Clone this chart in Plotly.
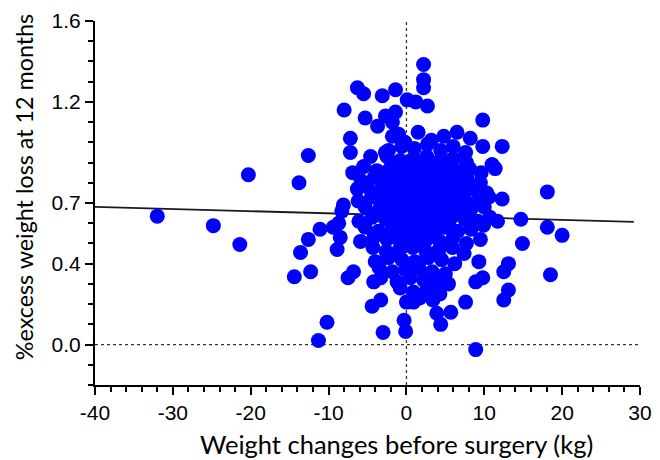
import plotly.graph_objects as go

# ---- data ----
x_ticks = [-40, -30, -20, -10, 0, 10, 20, 30]
x_ticktext = ["-40", "-30", "-20", "-10", "0", "10", "20", "30"]
y_ticks = [0.0, 0.4, 0.7, 1.2, 1.6]
y_ticktext = ["0.0", "0.4", "0.7", "1.2", "1.6"]

# regression line end points
reg_x = [-40, 29.2]
reg_y = [0.681, 0.607]

# scattered (individually visible) patients
x_sparse = [-32.0, -24.8, -21.4, -20.3, -13.8, -12.6, -13.6, -14.4, -12.3, -12.6,
            -11.1, -9.4, -8.9, -8.5, -8.7, -7.5, -6.8, -4.2, -3.3, -4.4,
            -3.3, -10.2, -11.3, -3.0, -0.3, -0.1, 0.9, 3.9, 4.4, 5.7,
            8.9, 7.6, 8.9, 9.3, 9.8, 12.5, 13.1, 12.5, 13.1, 14.9,
            14.7, 18.1, 20.0, 18.1, 18.5, 12.3, 11.7, 9.9, 9.5, 11.4,
            11.0, 9.8, 12.3, 9.8, 2.2, 2.2, 2.2, 1.2, 2.7, 0.1,
            -1.4, -1.8, -1.4, -2.7, -3.7, -5.3, -8.0, -6.3, -5.5, -3.1,
            -7.2, -1.0, -7.2, -6.9, -6.3, -4.6, -2.7, -8.1, -8.3, 6.5,
            8.2]
y_sparse = [0.635, 0.588, 0.495, 0.84, 0.80, 0.935, 0.455, 0.335, 0.36, 0.52,
            0.57, 0.58, 0.47, 0.53, 0.60, 0.33, 0.36, 0.31, 0.33, 0.19,
            0.22, 0.11, 0.02, 0.06, 0.12, 0.065, 0.21, 0.155, 0.10, 0.16,
            -0.025, 0.21, 0.31, 0.41, 0.33, 0.22, 0.27, 0.36, 0.40, 0.50,
            0.62, 0.58, 0.54, 0.755, 0.345, 0.72, 0.61, 0.59, 0.52, 0.87,
            0.89, 0.98, 0.98, 1.11, 1.385, 1.31, 1.27, 1.20, 1.18, 1.21,
            1.26, 1.10, 1.15, 1.13, 1.08, 1.12, 1.16, 1.27, 1.24, 1.23,
            1.02, 1.04, 0.95, 0.85, 0.77, 0.93, 0.95, 0.69, 0.66, 1.05,
            1.02]

# dense central cluster (overlapping points)
x_core = [-1.8, -0.2, 1.5, 3.2, 4.8,
          -2.3, -0.6, 1.0, 2.7, 4.4, 6.0, 7.6,
          -2.5, -0.8, 0.9, 2.6, 4.3, 6.0, 7.7,
          -5.5, -3.8, -2.1, -0.4, 1.3, 3.0, 4.7, 6.4, 8.1, 9.6,
          -5.8, -4.1, -2.4, -0.7, 1.0, 2.7, 4.4, 6.1, 7.8, 9.5,
          -5.0, -3.3, -1.6, 0.1, 1.8, 3.5, 5.2, 6.9, 8.6, 10.3,
          -6.2, -4.5, -2.8, -1.1, 0.6, 2.3, 4.0, 5.7, 7.4, 9.1, 10.6,
          -5.3, -3.6, -1.9, -0.2, 1.5, 3.2, 4.9, 6.6, 8.3, 10.0,
          -6.1, -4.4, -2.7, -1.0, 0.7, 2.4, 4.1, 5.8, 7.5, 9.2, 10.7,
          -5.3, -3.6, -1.9, -0.2, 1.5, 3.2, 4.9, 6.6, 8.3,
          -5.9, -4.2, -2.5, -0.8, 0.9, 2.6, 4.3, 6.0, 7.7,
          -4.3, -2.6, -0.9, 0.8, 2.5, 4.2, 5.9, 7.4,
          -4.0, -2.3, -0.6, 1.1, 2.8, 4.5, 6.2,
          -3.5, -1.8, -0.1, 1.6, 3.3, 5.0,
          -1.2, 0.5, 2.2, 3.9, 5.4,
          -0.8, 0.9, 2.6, 4.3,
          0.0, 1.7, 3.4]
y_core = [1.03, 1.00, 1.05, 1.01, 1.03,
          0.96, 0.98, 0.97, 0.99, 0.96, 0.98, 0.95,
          0.93, 0.91, 0.92, 0.93, 0.91, 0.92, 0.90,
          0.88, 0.86, 0.87, 0.88, 0.86, 0.87, 0.88, 0.86, 0.87, 0.85,
          0.81, 0.83, 0.82, 0.81, 0.83, 0.82, 0.81, 0.83, 0.82, 0.80,
          0.78, 0.76, 0.77, 0.78, 0.76, 0.77, 0.78, 0.76, 0.77, 0.75,
          0.71, 0.73, 0.72, 0.71, 0.73, 0.72, 0.71, 0.73, 0.72, 0.71, 0.73,
          0.68, 0.66, 0.67, 0.68, 0.66, 0.67, 0.68, 0.66, 0.67, 0.68,
          0.61, 0.63, 0.62, 0.61, 0.63, 0.62, 0.61, 0.63, 0.62, 0.61, 0.63,
          0.58, 0.56, 0.57, 0.58, 0.56, 0.57, 0.58, 0.56, 0.57,
          0.51, 0.53, 0.52, 0.51, 0.53, 0.52, 0.51, 0.53, 0.50,
          0.48, 0.46, 0.47, 0.48, 0.46, 0.47, 0.48, 0.45,
          0.41, 0.43, 0.42, 0.41, 0.43, 0.42, 0.40,
          0.38, 0.36, 0.37, 0.38, 0.36, 0.35,
          0.31, 0.33, 0.32, 0.31, 0.30,
          0.28, 0.26, 0.27, 0.25,
          0.21, 0.23, 0.22]

# extra patients hidden in the solid middle of the cluster
x_mid = [-1.5, 0.2, 1.9, 3.6, 5.3,
         -3.2, -1.5, 0.2, 1.9, 3.6, 5.3, 7.0,
         -3.1, -1.4, 0.3, 2.0, 3.7, 5.4, 7.1,
         -3.2, -1.5, 0.2, 1.9, 3.6, 5.3, 7.0,
         -3.3, -1.6, 0.1, 1.8, 3.5, 5.2, 6.9,
         -3.2, -1.5, 0.2, 1.9, 3.6, 5.3,
         -1.4, 0.3, 2.0, 3.7, 5.4,
         -1.5, 0.2, 1.9, 3.6,
         0.2, 1.9]
y_mid = [0.895, 0.90, 0.89, 0.895, 0.90,
         0.845, 0.85, 0.84, 0.845, 0.85, 0.84, 0.845,
         0.795, 0.80, 0.79, 0.795, 0.80, 0.79, 0.795,
         0.745, 0.75, 0.74, 0.745, 0.75, 0.74, 0.745,
         0.695, 0.70, 0.69, 0.695, 0.70, 0.69, 0.695,
         0.645, 0.65, 0.64, 0.645, 0.65, 0.64,
         0.595, 0.60, 0.59, 0.595, 0.60,
         0.545, 0.55, 0.54, 0.545,
         0.495, 0.50]

x_label = "Weight changes before surgery (kg)"
y_label = "%excess weight loss at 12 months"

# ---- figure ----
fig = go.Figure()
fig.add_trace(go.Scatter(x=reg_x, y=reg_y, mode="lines",
                         line=dict(color="#1a1a1a", width=1.8),
                         hoverinfo="skip", showlegend=False))
fig.add_trace(go.Scatter(x=x_sparse + x_core + x_mid, y=y_sparse + y_core + y_mid,
                         mode="markers",
                         marker=dict(size=15, color="#0000ff", line=dict(width=0)),
                         showlegend=False))

fig.add_shape(type="line", x0=0, x1=0, y0=-0.2, y1=1.6, xref="x", yref="y",
              line=dict(color="#333333", width=1.3, dash="dot"), layer="below")
fig.add_shape(type="line", x0=-40, x1=30, y0=0, y1=0, xref="x", yref="y",
              line=dict(color="#333333", width=1.3, dash="dot"), layer="below")

tickfont = dict(family="Liberation Sans, Arial, sans-serif", size=21, color="black")

# axis titles placed as text annotations (positions tuned to the reference)
fig.add_annotation(text=x_label, xref="paper", yref="paper", x=0.554, y=-0.163,
                   xanchor="center", yanchor="middle", showarrow=False,
                   font=dict(family="Lato, Open Sans, sans-serif", size=25.5, color="black"))
fig.add_annotation(text=y_label, xref="paper", yref="paper", x=-0.130, y=0.544,
                   xanchor="center", yanchor="middle", showarrow=False, textangle=-90,
                   font=dict(family="Lato, Open Sans, sans-serif", size=23.3, color="black"))

# page body has an 8px margin, so the figure is 652x452 to fill the 660x460 window
fig.update_layout(
    width=652, height=452,
    margin=dict(l=87, r=20, t=13, b=75),
    plot_bgcolor="white", paper_bgcolor="white",
    xaxis=dict(range=[-40, 30], tickmode="array", tickvals=x_ticks, ticktext=x_ticktext,
               ticks="outside", ticklen=8, tickwidth=2, tickcolor="black",
               showline=True, linecolor="black", linewidth=2,
               showgrid=False, zeroline=False, tickfont=tickfont,
               minor=dict(dtick=2, tick0=0, ticks="outside", ticklen=5, tickwidth=1.5,
                          tickcolor="black", showgrid=False),
               automargin=False),
    yaxis=dict(range=[-0.2, 1.6], tickmode="array", tickvals=y_ticks, ticktext=y_ticktext,
               ticks="outside", ticklen=8, tickwidth=2, tickcolor="black",
               showline=True, linecolor="black", linewidth=2,
               showgrid=False, zeroline=False, tickfont=tickfont,
               minor=dict(dtick=0.1, tick0=0, ticks="outside", ticklen=5, tickwidth=1.5,
                          tickcolor="black", showgrid=False),
               automargin=False),
)

fig.write_html("out.html")
